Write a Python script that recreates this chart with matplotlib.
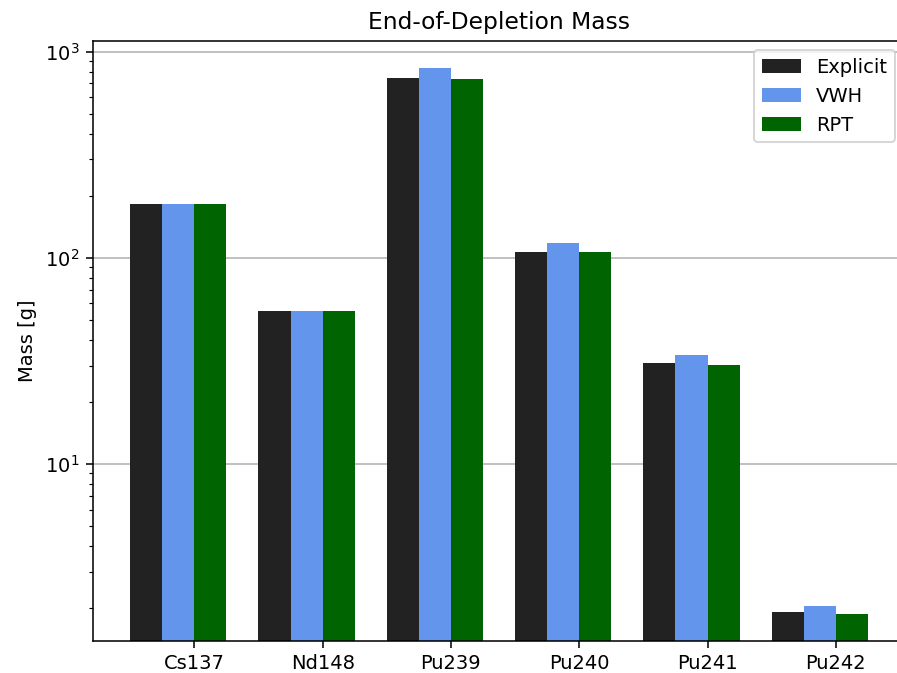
import matplotlib
matplotlib.use("Agg")
import matplotlib.pyplot as plt
import numpy as np

# End-of-depletion masses [g]
nuclides = ['Cs137', 'Nd148', 'Pu239', 'Pu240', 'Pu241', 'Pu242']
explicit = [181.6, 55.0, 748.0, 106.2, 30.8, 1.91]
vwh = [181.6, 55.0, 832.0, 118.2, 33.6, 2.04]
rpt = [181.6, 55.0, 733.0, 106.2, 30.3, 1.88]

series = [('Explicit', explicit, '#222222'),
          ('VWH', vwh, 'cornflowerblue'),
          ('RPT', rpt, 'darkgreen')]

width = 0.25
x = np.arange(len(nuclides))

fig = plt.figure(figsize=(897 / 140, 673 / 140), dpi=140)
ax = fig.add_axes([0.104, 0.048, 0.9047, 0.8917])

offsets = [-2 * width, -width, 0.0]
for (label, vals, color), off in zip(series, offsets):
    ax.bar(x + off, vals, width=width, align='edge', color=color, label=label)

ax.set_yscale('log')
ax.set_ylim(1.39, 1130)
ax.set_xlim(-0.7875, 5.5375)
ax.set_xticks(x)
ax.set_xticklabels(nuclides)
ax.set_ylabel('Mass [g]')
ax.set_title('End-of-Depletion Mass')
ax.set_axisbelow(True)
ax.grid(axis='y', which='major')
ax.legend(loc='upper right')

fig.savefig('out.png', dpi=140)
